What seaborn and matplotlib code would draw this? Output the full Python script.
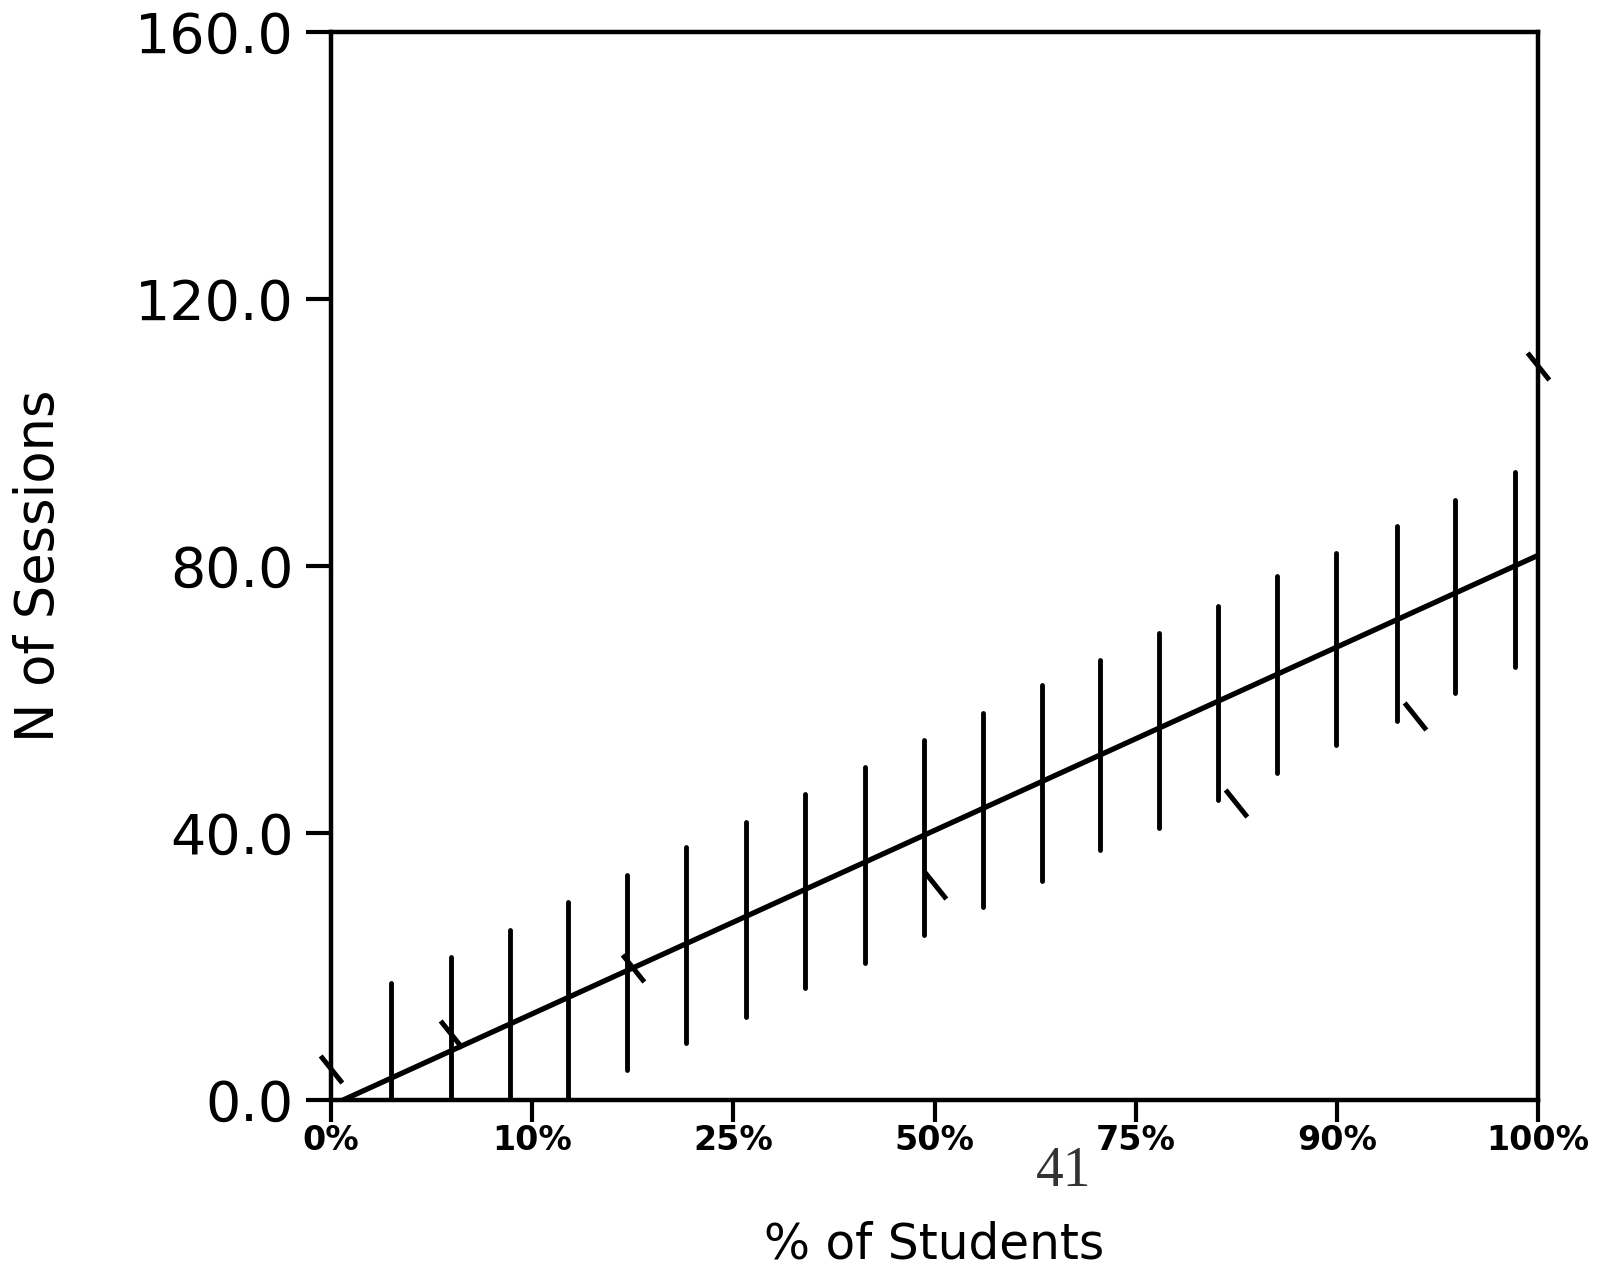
import numpy as np
import pandas as pd
import matplotlib
matplotlib.use("Agg")
import matplotlib.pyplot as plt
from matplotlib.path import Path
import seaborn as sns

# percentile positions of the interval bars (x in % of axis) and their ends
bar_x = [5.0, 9.9, 14.8, 19.6, 24.5, 29.4, 34.4, 39.3, 44.2, 49.1,
         54.0, 58.9, 63.7, 68.6, 73.5, 78.4, 83.3, 88.3, 93.1, 98.1]
bar_low = [0.0, 0.0, 0.0, 0.0, 4.5, 8.5, 12.4, 16.8, 20.5, 24.7,
           28.9, 32.8, 37.5, 40.7, 44.9, 49.0, 53.2, 56.8, 61.0, 64.9]
bar_high = [17.5, 21.4, 25.5, 29.7, 33.7, 37.9, 41.6, 45.8, 49.9, 54.0,
            58.0, 62.2, 65.9, 69.9, 74.0, 78.5, 81.9, 86.0, 89.9, 94.1]

# fitted line
line_x = [1.0, 100.0]
line_y = [0.0, 81.6]

# observed points (slash marks)
obs_x = [0.0, 9.9, 25.0, 50.0, 75.0, 89.8, 100.0]
obs_y = [4.6, 9.9, 19.8, 32.2, 44.5, 57.5, 110.0]

x_ticks = [0, 100 / 6, 200 / 6, 50, 400 / 6, 500 / 6, 100]
x_tick_labels = ["0%", "10%", "25%", "50%", "75%", "90%", "100%"]
y_ticks = [0, 40, 80, 120, 160]

bars = pd.DataFrame({
    "x": np.repeat(bar_x, 2),
    "y": np.column_stack([bar_low, bar_high]).ravel(),
    "bar": np.repeat(np.arange(len(bar_x)), 2),
})

sns.set_style("ticks")
plt.rcParams["font.family"] = ["DejaVu Sans"]
plt.rcParams["text.color"] = "black"
plt.rcParams["axes.labelcolor"] = "black"
plt.rcParams["xtick.color"] = "black"
plt.rcParams["ytick.color"] = "black"

fig = plt.figure(figsize=(15.97, 12.77), dpi=100)
ax = fig.add_axes([0.2073, 0.1386, 0.7558, 0.8363])

sns.lineplot(data=bars, x="x", y="y", units="bar", estimator=None,
             sort=False, color="black", lw=3.5, ax=ax, legend=False)
sns.lineplot(x=line_x, y=line_y, color="black", lw=3.8, ax=ax)

slash = Path([(-0.8, 1.0), (0.8, -1.0)], [Path.MOVETO, Path.LINETO])
sns.scatterplot(x=obs_x, y=obs_y, marker=slash, s=380, color="black",
                edgecolor="black", linewidth=3.6, clip_on=False, zorder=5, ax=ax)

ax.set_xlim(0, 100)
ax.set_ylim(0, 160)
ax.set_xticks(x_ticks)
ax.set_xticklabels(x_tick_labels, fontsize=24, fontweight="bold")
ax.set_yticks(y_ticks)
ax.set_yticklabels([f"{v:.1f}" for v in y_ticks], fontsize=40)
ax.tick_params(axis="x", length=16, width=3.0, pad=1, direction="out")
ax.tick_params(axis="y", length=18, width=3.0, pad=9, direction="out")
for sp in ax.spines.values():
    sp.set_visible(True)
    sp.set_linewidth(3.2)
    sp.set_color("black")

ax.set_xlabel("% of Students", fontsize=35, labelpad=46)
ax.set_ylabel("N of Sessions", fontsize=38, labelpad=50)

fig.text(1064 / 1597, 1 - 1172 / 1277, "41", fontsize=40,
         family=["Liberation Serif", "DejaVu Serif"], color="#333333",
         ha="center", va="center")

fig.savefig("out.png", dpi=100)
